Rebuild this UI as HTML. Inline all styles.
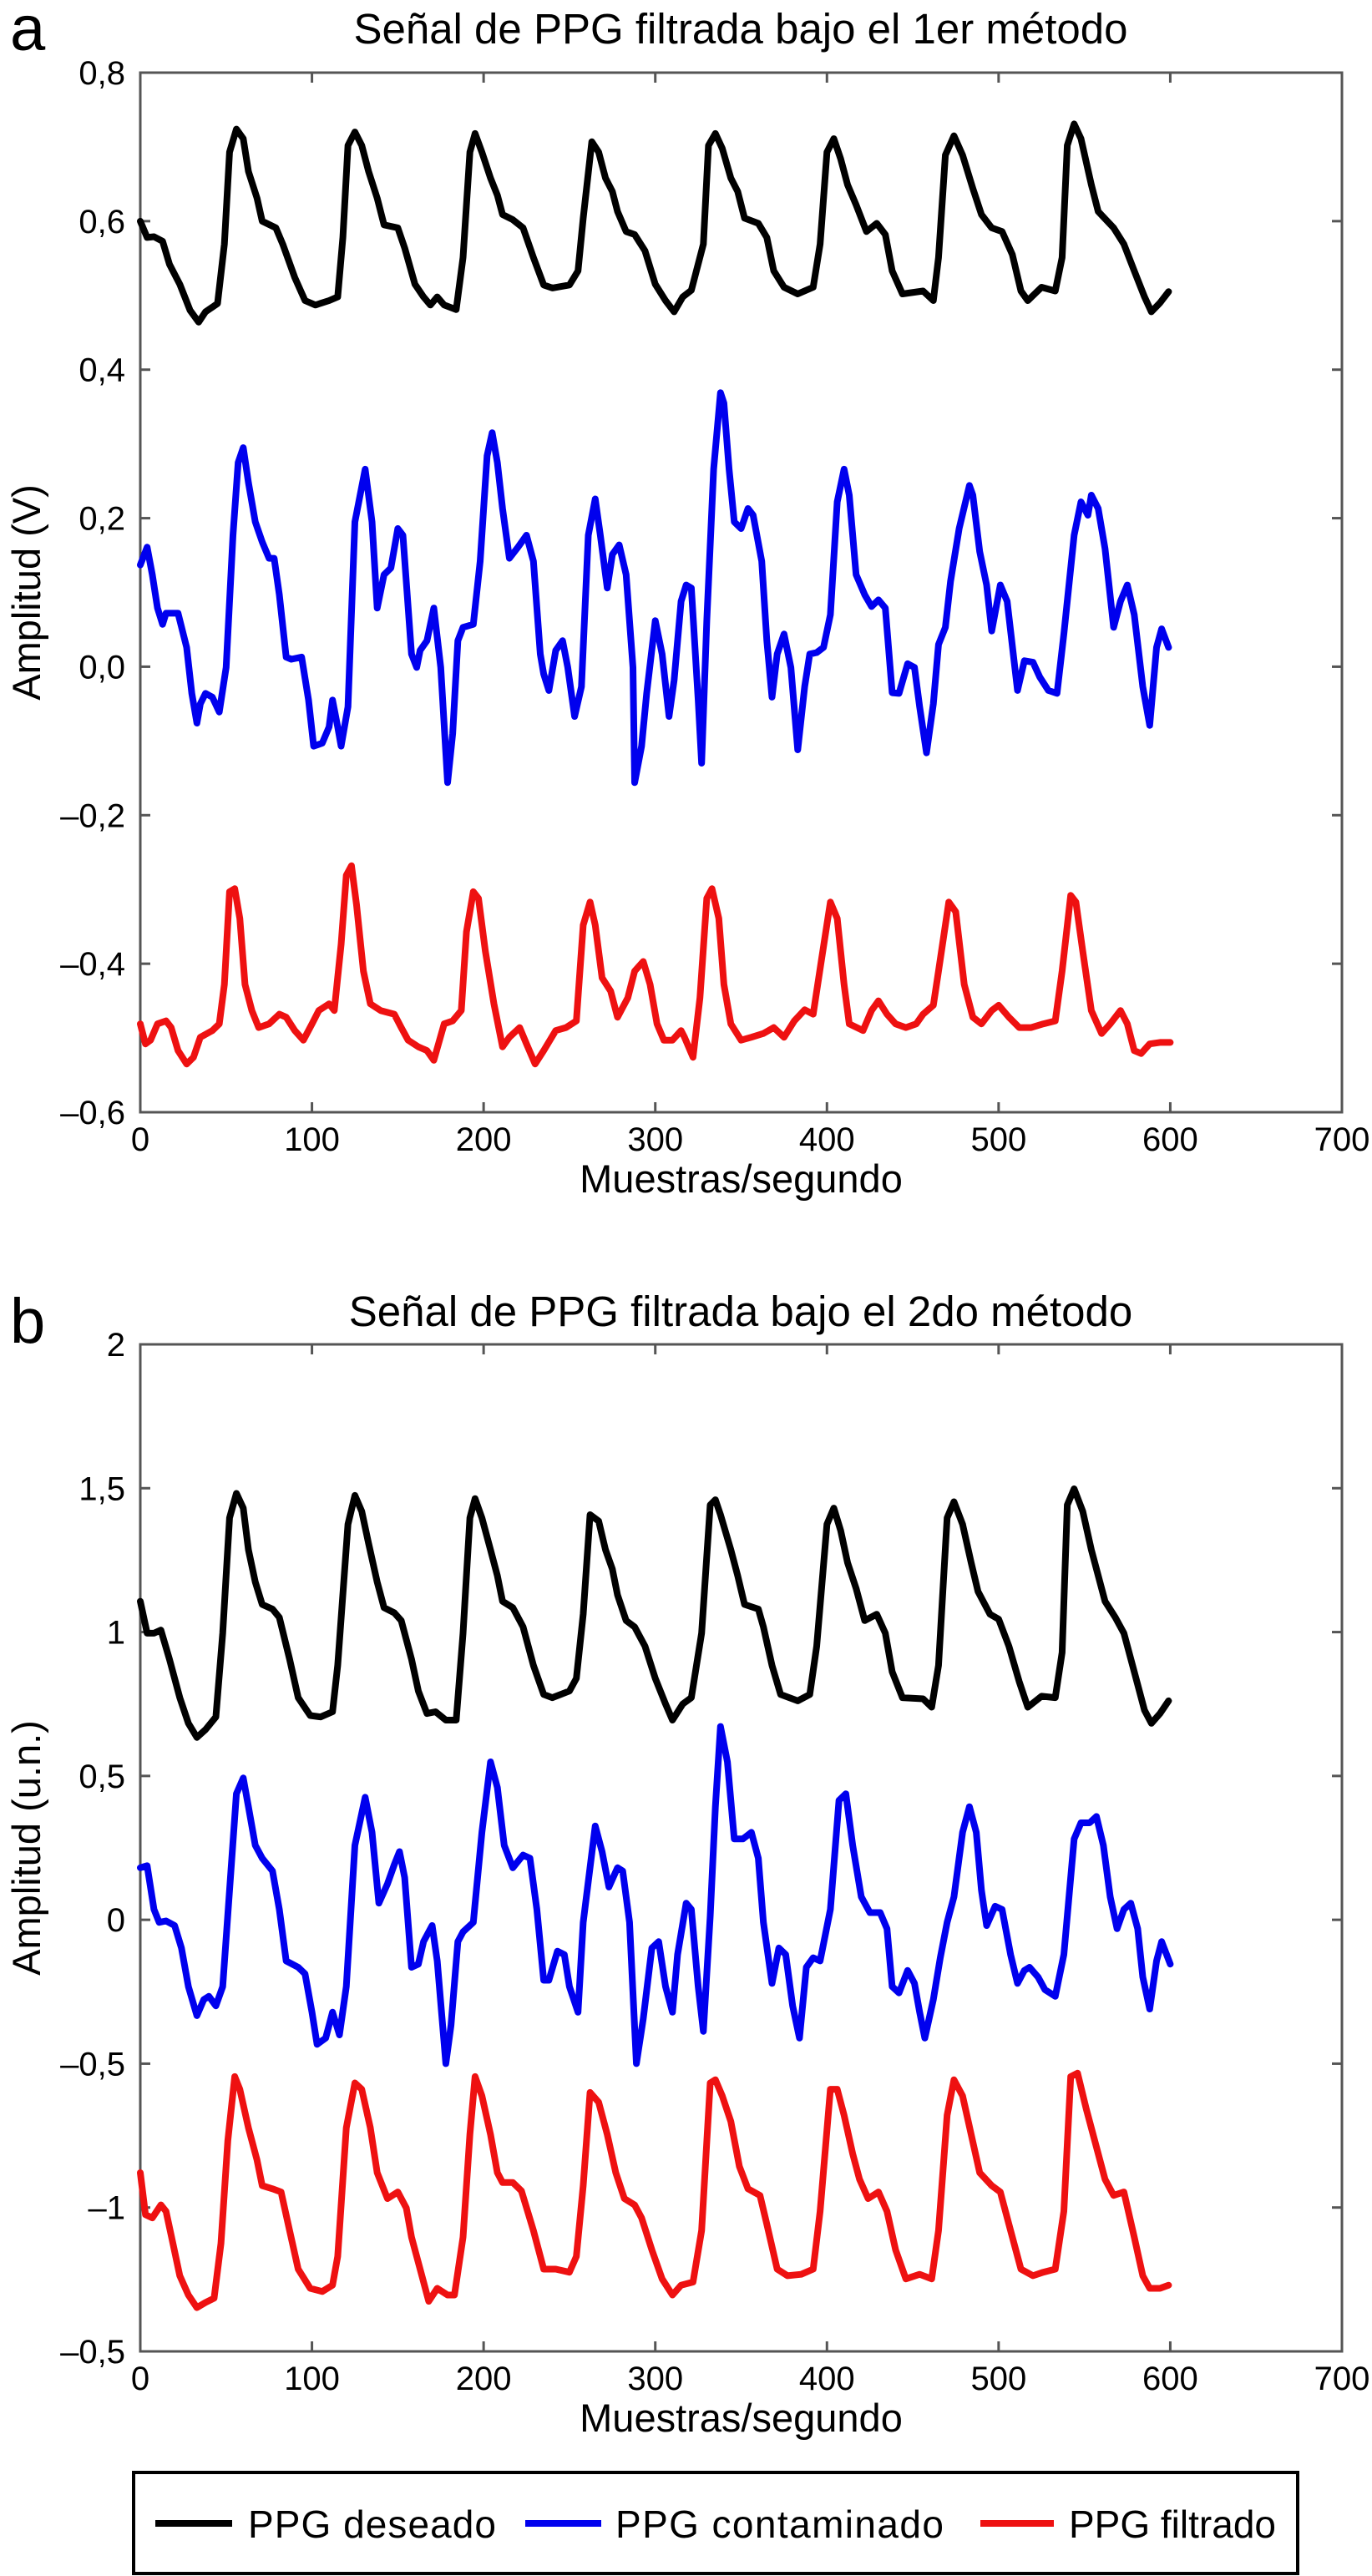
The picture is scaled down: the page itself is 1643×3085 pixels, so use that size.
<!DOCTYPE html>
<html><head><meta charset="utf-8"><style>
html,body{margin:0;padding:0;background:#fff;}
svg{display:block;font-family:"Liberation Sans",Arial,sans-serif;}
</style></head><body>
<svg id="fig" width="1643" height="3085" viewBox="0 0 1643 3085" xmlns="http://www.w3.org/2000/svg">
<rect width="1643" height="3085" fill="#fff"/>
<text x="12" y="60" font-size="76">a</text>
<text x="887" y="52" font-size="51" text-anchor="middle">Señal de PPG filtrada bajo el 1er método</text>
<text x="12" y="1608" font-size="76">b</text>
<text x="887" y="1588" font-size="51" text-anchor="middle">Señal de PPG filtrada bajo el 2do método</text>
<g id="pa"></g>
<g id="pb"></g>
<g>
<rect x="160" y="2961" width="1394" height="121" fill="#fff" stroke="#000" stroke-width="4"/>
<line x1="186" y1="3022" x2="278" y2="3022" stroke="#000" stroke-width="8"/>
<text x="297" y="3039" font-size="46" textLength="297">PPG deseado</text>
<line x1="629" y1="3022" x2="720" y2="3022" stroke="#0000ee" stroke-width="8"/>
<text x="737" y="3039" font-size="46" textLength="393">PPG contaminado</text>
<line x1="1174" y1="3022" x2="1262" y2="3022" stroke="#ee1111" stroke-width="8"/>
<text x="1280" y="3039" font-size="46" textLength="248">PPG filtrado</text>
</g>
</svg>
<script>
// Panel a data
const aBlackX=[0,4,8,13,17,23,29,34,38,45,49,52,56,60,63,68,71,79,83,90,96,102,110,115,118,121,125,129,133,138,142,150,154,160,165,169,173,177,184,188,192,195,199,204,208,211,217,223,229,235,240,250,255,258,263,267,271,275,278,283,288,294,300,306,311,316,321,328,331,335,339,344,348,352,360,365,369,375,383,392,396,400,404,408,412,417,423,429,434,438,444,456,462,465,469,474,479,485,490,496,502,508,513,517,525,533,537,540,544,548,554,558,567,573,579,585,589,594,599];
const aBlackY=[0.60,0.578,0.579,0.573,0.542,0.515,0.48,0.464,0.478,0.489,0.569,0.693,0.724,0.711,0.667,0.631,0.60,0.591,0.569,0.524,0.493,0.487,0.493,0.498,0.578,0.702,0.72,0.702,0.667,0.631,0.595,0.591,0.564,0.515,0.498,0.487,0.498,0.487,0.481,0.551,0.693,0.718,0.693,0.658,0.635,0.609,0.602,0.591,0.551,0.514,0.51,0.514,0.533,0.604,0.707,0.693,0.658,0.64,0.613,0.586,0.582,0.56,0.515,0.493,0.478,0.498,0.507,0.569,0.702,0.718,0.698,0.658,0.64,0.604,0.597,0.578,0.533,0.511,0.502,0.511,0.569,0.693,0.711,0.684,0.649,0.622,0.586,0.597,0.582,0.533,0.502,0.506,0.493,0.551,0.689,0.715,0.689,0.644,0.609,0.591,0.586,0.555,0.506,0.493,0.511,0.506,0.551,0.702,0.731,0.711,0.649,0.613,0.591,0.569,0.533,0.498,0.478,0.490,0.505];
const aBlueX=[0,4,7,10,13,15,22,27,30,33,35,38,42,46,50,54,57,60,63,67,71,75,78,81,85,88,94,98,101,106,110,112,115,117,121,125,131,135,138,142,146,150,153,158,161,163,167,171,175,179,182,185,188,194,198,202,205,208,211,215,220,225,229,233,235,238,242,246,249,253,257,261,265,268,272,275,279,283,287,288,292,295,300,304,308,311,315,318,321,325,327,330,334,338,340,343,346,350,354,357,362,365,368,371,375,379,383,387,390,394,398,402,406,410,413,417,422,426,430,434,438,442,447,451,454,458,462,465,469,472,477,483,485,489,493,496,501,505,511,515,520,524,529,534,538,544,548,552,554,558,562,567,571,575,579,584,588,592,595,599];
const aBlueY=[0.137,0.161,0.124,0.079,0.057,0.072,0.072,0.026,-0.036,-0.076,-0.050,-0.036,-0.041,-0.061,-0.001,0.177,0.275,0.295,0.248,0.195,0.168,0.146,0.146,0.097,0.013,0.010,0.013,-0.045,-0.107,-0.103,-0.081,-0.045,-0.081,-0.107,-0.054,0.195,0.266,0.195,0.079,0.124,0.133,0.186,0.177,0.017,-0.001,0.022,0.035,0.079,-0.001,-0.156,-0.090,0.035,0.053,0.057,0.142,0.284,0.315,0.275,0.213,0.146,0.161,0.177,0.142,0.017,-0.010,-0.032,0.022,0.035,-0.001,-0.067,-0.027,0.177,0.226,0.177,0.106,0.151,0.164,0.124,-0.001,-0.156,-0.107,-0.036,0.062,0.017,-0.067,-0.018,0.088,0.110,0.106,-0.045,-0.130,0.062,0.266,0.369,0.355,0.266,0.195,0.186,0.213,0.204,0.142,0.035,-0.041,0.017,0.044,-0.001,-0.112,-0.027,0.017,0.019,0.026,0.070,0.222,0.266,0.231,0.124,0.097,0.081,0.090,0.079,-0.035,-0.036,0.004,-0.001,-0.054,-0.116,-0.050,0.030,0.053,0.115,0.186,0.244,0.231,0.155,0.110,0.048,0.110,0.088,-0.032,0.008,0.006,-0.014,-0.032,-0.036,0.044,0.177,0.222,0.204,0.231,0.213,0.159,0.053,0.088,0.110,0.070,-0.027,-0.079,0.026,0.051,0.026];
const aRedX=[0,3,6,10,15,18,22,27,31,35,42,46,49,52,55,58,61,65,69,75,81,85,90,95,100,104,110,113,117,120,123,126,130,134,140,148,152,156,162,167,171,177,182,187,190,194,197,201,206,211,215,221,225,230,235,242,248,254,258,262,265,269,274,278,284,288,293,297,301,305,310,315,317,322,326,330,333,337,340,344,350,356,363,369,375,381,387,392,397,402,406,410,413,421,426,430,435,440,446,452,456,462,465,471,475,480,485,490,496,500,506,512,519,526,533,537,542,545,549,554,560,565,571,575,579,583,588,594,600];
const aRedY=[-0.481,-0.508,-0.503,-0.481,-0.477,-0.486,-0.517,-0.535,-0.526,-0.499,-0.490,-0.481,-0.428,-0.303,-0.299,-0.339,-0.428,-0.463,-0.486,-0.481,-0.468,-0.472,-0.490,-0.503,-0.481,-0.463,-0.454,-0.463,-0.374,-0.281,-0.268,-0.321,-0.410,-0.454,-0.463,-0.468,-0.486,-0.503,-0.512,-0.517,-0.530,-0.481,-0.477,-0.463,-0.357,-0.303,-0.312,-0.383,-0.454,-0.512,-0.499,-0.486,-0.508,-0.535,-0.517,-0.490,-0.486,-0.477,-0.348,-0.317,-0.348,-0.419,-0.437,-0.472,-0.446,-0.410,-0.397,-0.428,-0.481,-0.503,-0.503,-0.490,-0.499,-0.526,-0.446,-0.312,-0.299,-0.339,-0.428,-0.481,-0.503,-0.499,-0.494,-0.486,-0.499,-0.477,-0.462,-0.468,-0.392,-0.317,-0.339,-0.428,-0.481,-0.490,-0.463,-0.450,-0.468,-0.481,-0.486,-0.481,-0.468,-0.456,-0.410,-0.317,-0.330,-0.428,-0.472,-0.481,-0.463,-0.456,-0.472,-0.486,-0.486,-0.481,-0.477,-0.410,-0.308,-0.317,-0.383,-0.463,-0.494,-0.481,-0.463,-0.481,-0.517,-0.521,-0.508,-0.506,-0.506];
const aTicksY=[0.8,0.6,0.4,0.2,0,-0.2,-0.4,-0.6];
const aTickLabelsY=["0,8","0,6","0,4","0,2","0,0","–0,2","–0,4","–0,6"];
// Panel b data
const bBlackX=[0,4,8,12,17,23,28,33,38,44,48,52,56,60,63,67,71,77,81,87,92,99,105,112,115,121,125,129,133,138,142,148,152,158,162,167,172,178,184,188,192,195,199,204,208,211,217,223,229,235,240,250,254,258,262,267,271,275,278,283,288,294,300,306,310,316,321,327,332,335,338,344,348,352,360,363,368,373,383,390,394,400,404,408,412,417,422,429,434,438,444,456,461,465,470,474,479,484,488,495,500,506,512,517,525,533,537,540,544,549,554,562,568,573,579,585,589,594,599];
const bBlackY=[1.107,0.996,0.996,1.007,0.906,0.772,0.683,0.634,0.661,0.705,0.996,1.397,1.482,1.431,1.286,1.174,1.096,1.080,1.051,0.906,0.772,0.710,0.705,0.723,0.884,1.375,1.475,1.420,1.308,1.174,1.085,1.067,1.040,0.906,0.795,0.717,0.723,0.694,0.694,0.996,1.397,1.464,1.397,1.286,1.196,1.107,1.085,1.018,0.884,0.783,0.772,0.795,0.839,1.062,1.408,1.386,1.286,1.219,1.129,1.040,1.018,0.951,0.839,0.750,0.694,0.750,0.772,0.996,1.442,1.460,1.408,1.286,1.196,1.096,1.080,1.018,0.884,0.783,0.761,0.783,0.951,1.375,1.431,1.353,1.241,1.152,1.040,1.062,0.996,0.862,0.772,0.768,0.739,0.884,1.397,1.453,1.375,1.241,1.141,1.062,1.045,0.951,0.828,0.739,0.777,0.772,0.929,1.442,1.498,1.420,1.286,1.107,1.051,0.996,0.862,0.728,0.683,0.717,0.761];
const bBlueX=[0,4,8,11,15,20,24,28,33,37,40,44,48,52,56,60,63,67,71,77,81,85,92,96,100,103,108,112,116,120,125,131,135,139,144,148,151,154,158,162,165,170,173,178,181,185,188,194,199,204,208,212,217,223,227,231,235,238,243,247,250,255,258,265,269,273,278,281,285,289,293,298,302,306,310,313,318,321,325,328,332,335,338,342,346,351,356,360,363,368,372,376,380,384,388,392,396,402,407,411,415,420,425,431,435,438,442,447,451,454,457,462,466,470,474,479,483,487,490,493,498,502,507,511,515,518,523,527,533,538,544,548,553,557,561,565,569,573,577,581,584,588,592,595,600];
const bBlueY=[0.181,0.188,0.036,-0.009,-0.004,-0.020,-0.098,-0.232,-0.333,-0.277,-0.266,-0.299,-0.232,0.103,0.438,0.493,0.393,0.259,0.214,0.170,0.036,-0.143,-0.165,-0.188,-0.321,-0.433,-0.411,-0.321,-0.400,-0.232,0.259,0.426,0.304,0.058,0.125,0.192,0.237,0.147,-0.165,-0.154,-0.076,-0.020,-0.143,-0.500,-0.366,-0.076,-0.042,-0.009,0.304,0.549,0.460,0.259,0.181,0.225,0.214,0.036,-0.210,-0.210,-0.109,-0.121,-0.232,-0.321,-0.009,0.326,0.237,0.114,0.181,0.170,-0.009,-0.500,-0.344,-0.098,-0.076,-0.232,-0.321,-0.121,0.058,0.036,-0.232,-0.388,0.013,0.393,0.672,0.549,0.281,0.281,0.304,0.214,-0.009,-0.221,-0.098,-0.121,-0.299,-0.411,-0.165,-0.132,-0.143,0.036,0.415,0.438,0.259,0.080,0.025,0.025,-0.031,-0.232,-0.254,-0.176,-0.221,-0.321,-0.411,-0.277,-0.132,-0.009,0.080,0.304,0.393,0.304,0.103,-0.020,0.047,0.036,-0.121,-0.221,-0.176,-0.165,-0.199,-0.243,-0.266,-0.121,0.281,0.337,0.337,0.359,0.259,0.080,-0.031,0.036,0.058,-0.031,-0.199,-0.310,-0.143,-0.076,-0.154];
const bRedX=[0,3,7,12,15,19,23,28,33,38,43,47,51,55,58,63,68,71,77,82,87,92,99,106,112,115,120,125,129,134,138,144,150,155,158,163,168,173,179,183,188,192,195,199,204,208,211,217,222,229,235,242,250,254,258,262,267,272,277,282,288,292,298,304,310,315,322,327,332,335,339,344,349,354,361,365,371,377,385,392,396,402,406,410,415,419,424,430,435,440,446,454,461,465,470,474,479,484,489,496,501,507,513,520,526,533,538,542,546,551,556,562,567,573,579,584,588,594,599];
const bRedY=[-0.879,-1.025,-1.036,-0.991,-1.013,-1.125,-1.237,-1.304,-1.348,-1.330,-1.315,-1.125,-0.768,-0.545,-0.589,-0.723,-0.835,-0.924,-0.935,-0.946,-1.080,-1.214,-1.281,-1.292,-1.270,-1.170,-0.723,-0.567,-0.589,-0.723,-0.879,-0.969,-0.946,-1.002,-1.103,-1.214,-1.326,-1.281,-1.304,-1.304,-1.103,-0.746,-0.545,-0.612,-0.746,-0.879,-0.913,-0.913,-0.942,-1.080,-1.214,-1.214,-1.225,-1.170,-0.924,-0.600,-0.634,-0.746,-0.879,-0.969,-0.991,-1.036,-1.147,-1.248,-1.304,-1.270,-1.259,-1.080,-0.567,-0.556,-0.612,-0.701,-0.857,-0.935,-0.958,-1.058,-1.214,-1.237,-1.232,-1.214,-1.013,-0.589,-0.589,-0.679,-0.813,-0.902,-0.969,-0.946,-1.013,-1.147,-1.248,-1.232,-1.248,-1.080,-0.679,-0.556,-0.612,-0.746,-0.879,-0.924,-0.946,-1.080,-1.214,-1.237,-1.225,-1.214,-1.013,-0.545,-0.533,-0.656,-0.768,-0.902,-0.958,-0.946,-1.103,-1.237,-1.281,-1.281,-1.270];
const bTicksY=[2,1.5,1,0.5,0,-0.5,-1,-1.5];
const bTickLabelsY=["2","1,5","1","0,5","0","–0,5","–1","–0,5"];
const ticksX=[0,100,200,300,400,500,600,700];
const tickLabelsX=["0","100","200","300","400","500","600","700"];

const NS="http://www.w3.org/2000/svg";
function mk(tag,attrs,parent){const e=document.createElementNS(NS,tag);for(const k in attrs)e.setAttribute(k,attrs[k]);parent.appendChild(e);return e;}
const X0=168,X1=1607,XMAX=700;
function xs(v){return X0+v/XMAX*(X1-X0);}

function panel(g,top,bottom,ymax,ymin,ticksY,labelsY,ytitle,series,key){
  const ys=v=>top+(ymax-v)/(ymax-ymin)*(bottom-top);
  const frame=mk('rect',{x:X0,y:top,width:X1-X0,height:bottom-top,fill:'none',stroke:'#555',"stroke-width":3},g);
  
  
  ticksX.forEach((t,i)=>{
    const x=xs(t);
    if(i>0&&i<ticksX.length-1){
      const a=mk('line',{x1:x,y1:bottom,x2:x,y2:bottom-12,stroke:'#555',"stroke-width":3},g);
      
      
      const b=mk('line',{x1:x,y1:top,x2:x,y2:top+12,stroke:'#555',"stroke-width":3},g);
      
      
    }
    const tx=mk('text',{x:x,y:bottom+46,"font-size":40,"text-anchor":"middle"},g);
    tx.textContent=tickLabelsX[i];
    
    
  });
  ticksY.forEach((t,i)=>{
    const y=ys(t);
    if(i>0&&i<ticksY.length-1){
      const a=mk('line',{x1:X0,y1:y,x2:X0+12,y2:y,stroke:'#555',"stroke-width":3},g);
      
      
      const b=mk('line',{x1:X1,y1:y,x2:X1-12,y2:y,stroke:'#555',"stroke-width":3},g);
      
      
    }
    const tx=mk('text',{x:150,y:y+14,"font-size":40,"text-anchor":"end"},g);
    tx.textContent=labelsY[i];
    
    
  });
  const xt=mk('text',{x:(X0+X1)/2,y:bottom+96,"font-size":47,"text-anchor":"middle"},g);
  xt.textContent='Muestras/segundo';
  
  
  const cy=(top+bottom)/2;
  const yt=mk('text',{x:0,y:0,"font-size":47,"text-anchor":"middle",transform:`translate(48,${cy}) rotate(-90)`},g);
  yt.textContent=ytitle;
  
  
  series.forEach(s=>{
    const d=s.x.map((v,i)=>(i?'L':'M')+xs(v).toFixed(1)+' '+ys(s.y[i]).toFixed(1)).join(' ');
    const p=mk('path',{d:d,fill:'none',stroke:s.c,"stroke-width":8,"stroke-linejoin":"round","stroke-linecap":"round"},g);
    
    
  });
}
panel(document.getElementById('pa'),87,1332,0.8,-0.6,aTicksY,aTickLabelsY,'Amplitud (V)',[
  {x:aBlackX,y:aBlackY,c:'#000',n:'a-series-deseado'},
  {x:aBlueX,y:aBlueY,c:'#0000ee',n:'a-series-contaminado'},
  {x:aRedX,y:aRedY,c:'#ee1111',n:'a-series-filtrado'}],'a');
panel(document.getElementById('pb'),1610,2816,2,-1.5,bTicksY,bTickLabelsY,'Amplitud (u.n.)',[
  {x:bBlackX,y:bBlackY,c:'#000',n:'b-series-deseado'},
  {x:bBlueX,y:bBlueY,c:'#0000ee',n:'b-series-contaminado'},
  {x:bRedX,y:bRedY,c:'#ee1111',n:'b-series-filtrado'}],'b');
</script>
</body></html>
